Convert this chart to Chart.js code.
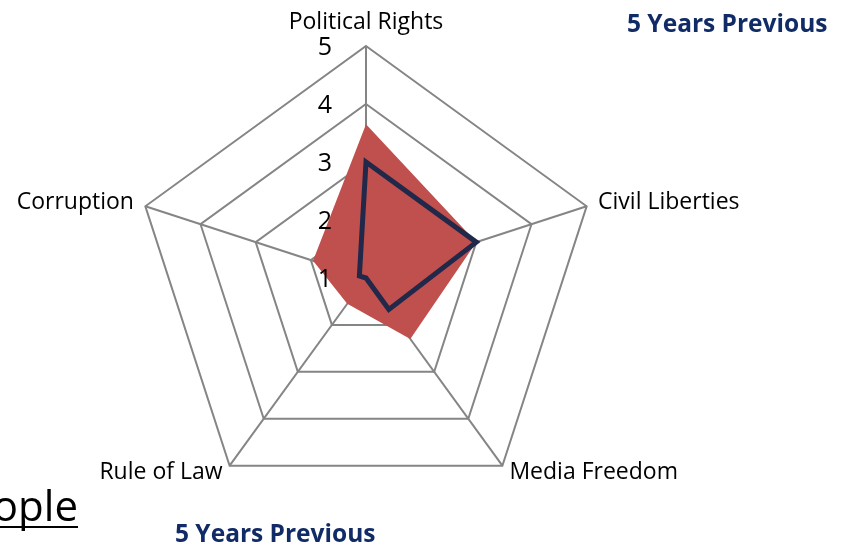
<!DOCTYPE html>
<html>
<head>
<script src="https://cdn.jsdelivr.net/npm/chart.js"></script>
<style>
  body { margin: 0; background: #fff; }
</style>
</head>

<body>
<canvas id="myChart" width="850" height="545"></canvas>

<script>
  // axes, clockwise from the top
  const categories = ['Political Rights', 'Civil Liberties', 'Media Freedom', 'Rule of Law', 'Corruption'];
  const currentValues = [3.65, 3.0, 2.3, 1.55, 1.96];
  const previousValues = [3.0, 3.0, 1.67, 1.0, 1.12];
  const tickLabels = [1, 2, 3, 4, 5];
  const previousLabel = '5 Years Previous';

  const labelFont = '23px "Open Sans"';
  const tickFont = '25px "Open Sans"';

  const labelPlugin = {
    id: 'labels',
    afterDraw(chart) {
      const c = chart.ctx;
      const s = chart.scales.r;
      c.save();
      c.fillStyle = '#000';
      // axis names
      c.font = labelFont;
      categories.forEach((name, i) => {
        const p = s.getPointPosition(i, s.drawingArea + 12);
        if (i == 0) { c.textAlign = 'center'; c.textBaseline = 'bottom'; }
        else if (i == 1) { c.textAlign = 'left'; c.textBaseline = 'middle'; }
        else if (i == 2) { c.textAlign = 'left'; c.textBaseline = 'middle'; p.y -= 3; }
        else if (i == 3) { c.textAlign = 'right'; c.textBaseline = 'middle'; p.y -= 3; }
        else { c.textAlign = 'right'; c.textBaseline = 'middle'; }
        c.fillText(name, p.x, p.y);
      });
      // value ticks, to the left of the vertical axis
      c.font = tickFont;
      c.textAlign = 'right';
      c.textBaseline = 'middle';
      tickLabels.forEach(v => {
        const y = s.yCenter - s.getDistanceFromCenterForValue(v) + 2;
        c.fillText(String(v), s.xCenter - 34, y);
      });
      // slide text around the chart
      c.fillStyle = '#112b66';
      c.font = 'bold 24.5px "Open Sans"';
      c.textAlign = 'left';
      c.textBaseline = 'alphabetic';
      c.fillText(previousLabel, 627, 32);
      c.fillText(previousLabel, 175, 542);
      c.fillStyle = '#000';
      c.font = '42px "Open Sans"';
      c.textAlign = 'right';
      c.fillText('ople', 78, 521);
      c.fillRect(0, 526, 78, 2);
      c.restore();
    }
  };

  new Chart(document.getElementById('myChart'), {
    type: 'radar',
    data: {
      labels: categories,
      datasets: [{
        label: previousLabel,
        data: previousValues,
        fill: false,
        borderColor: '#222849',
        borderWidth: 5,
        borderJoinStyle: 'miter',
        pointRadius: 0,
        order: 1
      }, {
        label: 'Current',
        data: currentValues,
        fill: true,
        backgroundColor: '#c0504d',
        borderWidth: 0,
        pointRadius: 0,
        order: 2
      }]
    },
    options: {
      responsive: false,
      animation: false,
      layout: { padding: { left: 134, top: 46, right: 252, bottom: 35 } },
      plugins: { legend: { display: false }, tooltip: { enabled: false } },
      elements: { line: { tension: 0 } },
      scales: {
        r: {
          min: 1,
          max: 5,
          ticks: { display: false, stepSize: 1 },
          pointLabels: { display: false },
          grid: { color: '#858585', lineWidth: 2 },
          angleLines: { color: '#858585', lineWidth: 2 }
        }
      }
    },
    plugins: [labelPlugin]
  });
</script>
</body>
</html>
